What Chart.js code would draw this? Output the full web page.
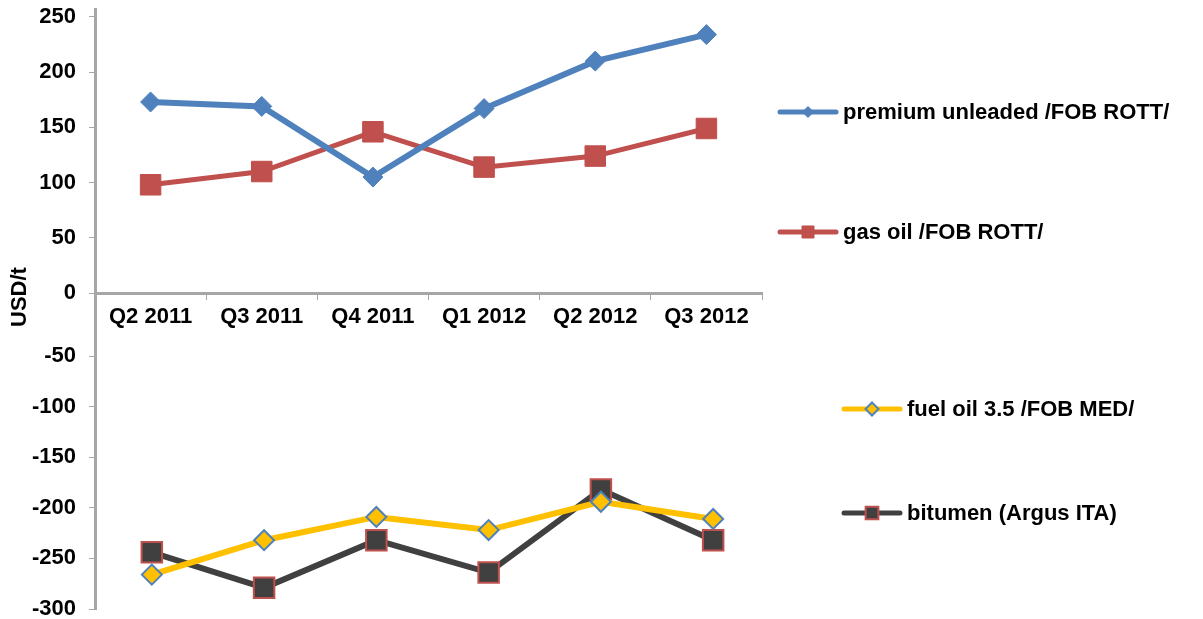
<!DOCTYPE html>
<html><head><meta charset="utf-8">
<script src="https://cdn.jsdelivr.net/npm/chart.js@4/dist/chart.umd.min.js"></script>
<style>html,body{margin:0;padding:0;background:#fff}#wrap{width:1203px;height:619px;position:relative}</style>
</head><body><div id="wrap"><canvas id="c" width="1203" height="619"></canvas></div>
<script>
// ---- data ----
const categories = ['Q2 2011', 'Q3 2011', 'Q4 2011', 'Q1 2012', 'Q2 2012', 'Q3 2012'];
const premiumUnleaded = [173, 169, 105, 167, 210, 234];
const gasOil = [98, 110, 146, 114, 124, 149];
const fuelOil = [-266, -232, -209, -222, -194, -211];
const bitumen = [-244, -279, -232, -264, -182, -232];
const upperTicks = [0, 50, 100, 150, 200, 250];
const lowerTicks = [-300, -250, -200, -150, -100, -50];
const seriesNames = ['premium unleaded /FOB ROTT/', 'gas oil /FOB ROTT/', 'fuel oil 3.5 /FOB MED/', 'bitumen (Argus ITA)'];
const axisTitle = 'USD/t';

// ---- styles ----
const BLUE = '#4F81BD', RED = '#C0504D', YELLOW = '#FFC000', DARK = '#404040', AXIS = '#A6A6A6';
const FONT = 'bold 22px "Liberation Sans", Arial, sans-serif';
const tickFont = { family: '"Liberation Sans", Arial, sans-serif', size: 22, weight: 'bold' };
const AXIS_W = 75;

const lowerPoints = arr => arr.map((v, i) => ({ x: i, y: v }));
const fixY = s => { s.width = AXIS_W; s.paddingTop = 0; s.paddingBottom = 0; };

const legendPlugin = {
  id: 'customLegend',
  afterDraw(chart) {
    const ctx = chart.ctx;
    const rows = [
      { ds: 0, x: 778, y: 112, r: 5.5 },
      { ds: 1, x: 778, y: 232, r: 8.5 },
      { ds: 2, x: 842, y: 409, r: 6.5 },
      { ds: 3, x: 842, y: 513, r: 9 }
    ];
    ctx.save();
    rows.forEach(row => {
      const d = chart.data.datasets[row.ds];
      ctx.strokeStyle = d.borderColor;
      ctx.lineWidth = 5;
      ctx.lineCap = 'round';
      ctx.beginPath();
      ctx.moveTo(row.x + 2, row.y);
      ctx.lineTo(row.x + 58, row.y);
      ctx.stroke();
      ctx.lineCap = 'butt';
      ctx.fillStyle = d.pointBackgroundColor;
      ctx.strokeStyle = d.pointBorderColor;
      ctx.lineWidth = d.pointBorderWidth;
      ctx.beginPath();
      const cx = row.x + 30, cy = row.y, r = row.r;
      if (d.pointStyle === 'rectRot') {
        ctx.moveTo(cx, cy - r); ctx.lineTo(cx + r, cy); ctx.lineTo(cx, cy + r); ctx.lineTo(cx - r, cy); ctx.closePath();
      } else {
        const s = r * Math.SQRT1_2;
        ctx.rect(cx - s, cy - s, 2 * s, 2 * s);
      }
      ctx.fill(); ctx.stroke();
      ctx.fillStyle = '#000';
      ctx.font = FONT;
      ctx.textBaseline = 'middle';
      ctx.textAlign = 'left';
      ctx.fillText(seriesNames[row.ds], row.x + 65, row.y + 1);
    });
    // axis title
    const yTop = chart.scales.y;
    ctx.translate(20, yTop.getPixelForValue(0) + 4);
    ctx.rotate(-Math.PI / 2);
    ctx.textAlign = 'center';
    ctx.textBaseline = 'middle';
    ctx.font = FONT;
    ctx.fillStyle = '#000';
    ctx.fillText(axisTitle, 0, 0);
    ctx.restore();
  }
};

new Chart(document.getElementById('c'), {
  type: 'line',
  data: {
    labels: categories,
    datasets: [
      { label: seriesNames[0], data: premiumUnleaded, xAxisID: 'x', yAxisID: 'y',
        borderColor: BLUE, borderWidth: 6, pointStyle: 'rectRot', pointRadius: 10,
        pointBackgroundColor: BLUE, pointBorderColor: BLUE, pointBorderWidth: 1, tension: 0 },
      { label: seriesNames[1], data: gasOil, xAxisID: 'x', yAxisID: 'y',
        borderColor: RED, borderWidth: 5, pointStyle: 'rect', pointRadius: 14.5,
        pointBackgroundColor: RED, pointBorderColor: RED, pointBorderWidth: 1, tension: 0 },
      { label: seriesNames[2], data: lowerPoints(fuelOil), xAxisID: 'x2', yAxisID: 'y2',
        borderColor: YELLOW, borderWidth: 6, pointStyle: 'rectRot', pointRadius: 10,
        pointBackgroundColor: YELLOW, pointBorderColor: BLUE, pointBorderWidth: 2, tension: 0 },
      { label: seriesNames[3], data: lowerPoints(bitumen), xAxisID: 'x2', yAxisID: 'y2',
        borderColor: DARK, borderWidth: 6, pointStyle: 'rect', pointRadius: 14.5,
        pointBackgroundColor: DARK, pointBorderColor: RED, pointBorderWidth: 2, tension: 0 }
    ]
  },
  options: {
    responsive: false,
    animation: false,
    devicePixelRatio: 1,
    layout: { autoPadding: false, padding: { left: 95 - AXIS_W, top: 9, right: 441, bottom: 10 } },
    plugins: { legend: { display: false }, tooltip: { enabled: false } },
    scales: {
      x: {
        type: 'category',
        position: { y: 0 },
        offset: true,
        grid: { display: true, drawOnChartArea: false, color: AXIS, tickLength: 5, offset: true, lineWidth: 1 },
        border: { color: AXIS, width: 3 },
        ticks: { color: '#000', font: tickFont, padding: 6, maxRotation: 0, autoSkip: false }
      },
      x2: {
        type: 'linear',
        display: false,
        min: -0.506,
        max: 5.435
      },
      y2: {
        type: 'linear',
        position: 'left',
        stack: 'v',
        stackWeight: 316,
        min: -300,
        max: 12.3,
        afterBuildTicks: s => { s.ticks = lowerTicks.map(v => ({ value: v })); },
        afterFit: fixY,
        grid: { display: true, drawOnChartArea: false, color: AXIS, tickLength: 6 },
        border: { color: AXIS, width: 3 },
        ticks: { color: '#000', font: tickFont, padding: 13, autoSkip: false }
      },
      y: {
        type: 'linear',
        position: 'left',
        stack: 'v',
        stackWeight: 284,
        min: 0,
        max: 257.2,
        afterBuildTicks: s => { s.ticks = upperTicks.map(v => ({ value: v })); },
        afterFit: fixY,
        grid: { display: true, drawOnChartArea: false, color: AXIS, tickLength: 6 },
        border: { color: AXIS, width: 3 },
        ticks: { color: '#000', font: tickFont, padding: 13, autoSkip: false }
      }
    }
  },
  plugins: [legendPlugin]
});
</script>
</body></html>
